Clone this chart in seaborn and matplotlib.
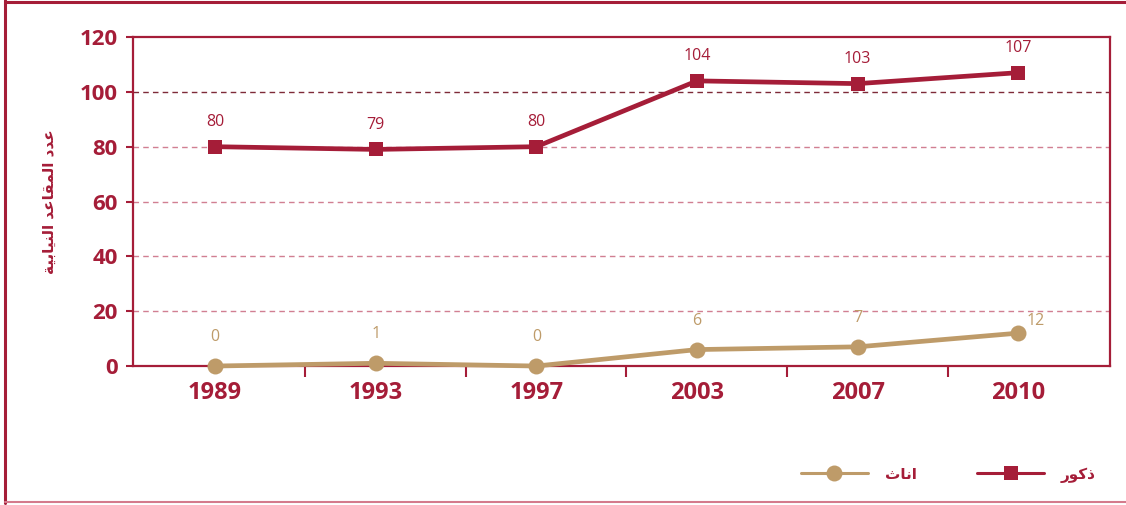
import matplotlib
matplotlib.use("Agg")
import matplotlib.pyplot as plt
from matplotlib.lines import Line2D
import seaborn as sns
import pandas as pd

# Data
years = ["1989", "1993", "1997", "2003", "2007", "2010"]
males = [80, 79, 80, 104, 103, 107]
females = [0, 1, 0, 6, 7, 12]
y_ticks = [0, 20, 40, 60, 80, 100, 120]

# Arabic labels in presentation forms, visual (left-to-right) order
label_males = "\uFEAD\uFEEE\uFEDB\uFEAB"          # ذكور
label_females = "\uFE99\uFE8E\uFEE7\uFE8D"        # اناث
y_title = ("\uFE94\uFEF4\uFE91\uFE8E\uFEF4\uFEE8\uFEDF\uFE8D "
           "\uFEAA\uFECB\uFE8E\uFED8\uFEE4\uFEDF\uFE8D "
           "\uFEA9\uFEAA\uFECB")                    # عدد المقاعد النيابية

CRIMSON = "#A51D38"
GOLD = "#BE9B69"
GRID_LIGHT = "#D17F92"
GRID_DARK = "#7E2A38"

sns.set_theme(style="white")
plt.rcParams["font.family"] = ["Open Sans", "DejaVu Sans"]

fig = plt.figure(figsize=(11.26, 5.05), dpi=100)
ax = fig.add_axes([0.1181, 0.2752, 0.8677, 0.6515])

pos = list(range(len(years)))
df = pd.DataFrame({"pos": pos, "year": years, "males": males, "females": females})

sns.lineplot(data=df, x="pos", y="females", ax=ax, color=GOLD, linewidth=3.4,
             marker="o", markersize=11.5, markeredgewidth=0, label=label_females,
             zorder=4, clip_on=False)
sns.lineplot(data=df, x="pos", y="males", ax=ax, color=CRIMSON, linewidth=3.4,
             marker="s", markersize=9.5, markeredgewidth=0, label=label_males,
             zorder=5, clip_on=False)

# Value labels
for x, v in zip(pos, males):
    ax.annotate(str(v), (x, v), xytext=(0, 12), textcoords="offset points",
                ha="center", va="bottom", color=CRIMSON, fontsize=11.5)
for x, v in zip(pos, females):
    if x == len(pos) - 1:
        ax.annotate(str(v), (x, v), xytext=(6, 3), textcoords="offset points",
                    ha="left", va="bottom", color=GOLD, fontsize=11.5)
    else:
        ax.annotate(str(v), (x, v), xytext=(0, 15), textcoords="offset points",
                    ha="center", va="bottom", color=GOLD, fontsize=11.5)

# Axes limits and ticks
ax.set_xlim(-0.51, 5.57)
ax.set_ylim(0, 120)
ax.set_yticks(y_ticks)
ax.set_yticklabels([str(t) for t in y_ticks], fontsize=16, fontweight="bold",
                   color=CRIMSON)
ax.set_xticks([p + 0.56 for p in pos[:-1]])
ax.set_xticklabels([])
ax.set_xticks(pos, minor=True)
ax.set_xticklabels(years, minor=True, fontsize=17, fontweight="bold",
                   color=CRIMSON)
ax.tick_params(axis="x", which="major", length=8, width=1.5, color=CRIMSON,
               direction="out", bottom=True)
ax.tick_params(axis="x", which="minor", length=0, pad=11, bottom=True)
ax.tick_params(axis="y", length=5, width=1.5, color=CRIMSON, direction="out",
               left=True, pad=6)
ax.set_xlabel("")
ax.set_ylabel(y_title, fontsize=11, fontweight="bold", color=CRIMSON,
              family=["DejaVu Sans"], labelpad=16)

# Gridlines
for t in [20, 40, 60, 80]:
    ax.axhline(t, color=GRID_LIGHT, linewidth=1.0, linestyle=(0, (4, 3)),
               zorder=1)
ax.axhline(100, color=GRID_DARK, linewidth=1.0, linestyle=(0, (4, 3)), zorder=1)

for s in ax.spines.values():
    s.set_color(CRIMSON)
    s.set_linewidth(1.6)

# Legend at bottom right
ax.legend_.remove()
handles, labels = ax.get_legend_handles_labels()
leg = fig.legend(handles, labels, loc="center left",
                 bbox_to_anchor=(0.699, 0.06), ncol=2, frameon=False,
                 handlelength=4.4, handletextpad=1.1, columnspacing=3.95,
                 prop={"family": ["DejaVu Sans"], "size": 11, "weight": "bold"})
for h in leg.legend_handles:
    h.set_linewidth(2.2)
for txt in leg.get_texts():
    txt.set_color(CRIMSON)

# Outer frame
fig.add_artist(Line2D([5 / 1126, 5 / 1126], [0.004, 1.0],
                      transform=fig.transFigure, color=CRIMSON, linewidth=2.2))
fig.add_artist(Line2D([5 / 1126, 1.0], [1 - 1.5 / 505, 1 - 1.5 / 505],
                      transform=fig.transFigure, color=CRIMSON, linewidth=2.2))
fig.add_artist(Line2D([5 / 1126, 1.0], [3 / 505, 3 / 505],
                      transform=fig.transFigure, color="#D47A8C", linewidth=1.5))

fig.savefig("out.png", dpi=100, facecolor="white")
